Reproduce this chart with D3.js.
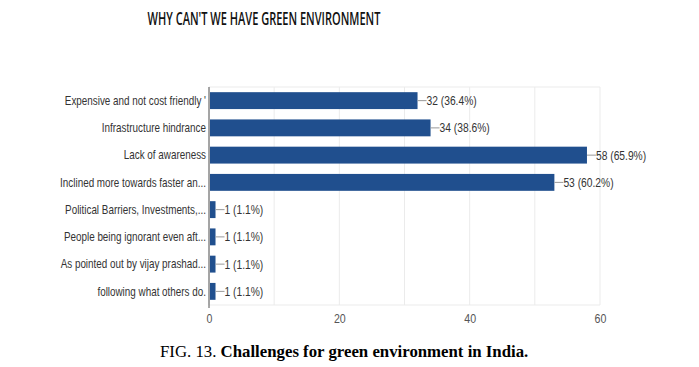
<!DOCTYPE html>
<html>
<head>
<meta charset="utf-8">
<script src="https://cdn.jsdelivr.net/npm/d3@7"></script>
<style>
  body { margin: 0; background: #fff; }
  svg text { font-family: "Liberation Sans", Arial, sans-serif; }
</style>
</head>
<body>
<svg id="chart" width="699" height="367"></svg>
<script>
// answers to the survey question
const categories = [
  "Expensive and not cost friendly '",
  "Infrastructure hindrance",
  "Lack of awareness",
  "Inclined more towards faster an...",
  "Political Barriers, Investments,...",
  "People being ignorant even aft...",
  "As pointed out by vijay prashad...",
  "following what others do."
];
const counts = [32, 34, 58, 53, 1, 1, 1, 1];
const percents = ["36.4%", "38.6%", "65.9%", "60.2%", "1.1%", "1.1%", "1.1%", "1.1%"];
const tickValues = [0, 20, 40, 60];
const gridValues = [0, 10, 20, 30, 40, 50, 60];

const data = categories.map((c, i) => ({ cat: c, count: counts[i], pct: percents[i] }));

const margin = { top: 87, left: 209, right: 99, bottom: 62 };
const W = 699, H = 367;
// the source picture is squeezed sideways, so text is too
const sq = 0.76;

const svg = d3.select("#chart");

const x = d3.scaleLinear().domain([0, 60]).range([margin.left, W - margin.right]);
const y = d3.scaleBand().domain(categories).range([margin.top, H - margin.bottom]).paddingInner(0.38).paddingOuter(0.19);

// title
svg.append("text")
  .attr("transform", "translate(264,25) scale(0.63,1)")
  .attr("text-anchor", "middle")
  .style("font-family", "'Open Sans', sans-serif")
  .style("font-weight", 600)
  .style("font-size", "17.5px")
  .attr("fill", "#111")
  .text("WHY CAN'T WE HAVE GREEN ENVIRONMENT");

// grid
svg.append("g").selectAll("line").data(gridValues).join("line")
  .attr("x1", d => x(d)).attr("x2", d => x(d))
  .attr("y1", margin.top).attr("y2", H - margin.bottom)
  .attr("stroke", "#ebebeb");
svg.append("line")
  .attr("x1", x(0)).attr("x2", x(60))
  .attr("y1", margin.top).attr("y2", margin.top)
  .attr("stroke", "#ebebeb");
svg.append("line")
  .attr("x1", x(0)).attr("x2", x(60))
  .attr("y1", H - margin.bottom).attr("y2", H - margin.bottom)
  .attr("stroke", "#ebebeb");

// bars
svg.append("g").selectAll("rect").data(data).join("rect")
  .attr("x", x(0) + 1)
  .attr("y", d => y(d.cat))
  .attr("width", d => x(d.count) - x(0) - 1)
  .attr("height", y.bandwidth())
  .attr("fill", "#204f8e");

// value labels with leader line
const lab = svg.append("g").selectAll("g").data(data).join("g")
  .attr("transform", d => `translate(${x(d.count)},${y(d.cat) + y.bandwidth() / 2})`);
lab.append("line")
  .attr("x1", 0).attr("x2", 9).attr("y1", 0).attr("y2", 0)
  .attr("stroke", "#999");
lab.append("text")
  .attr("transform", "translate(9,0) scale(0.79,1)")
  .attr("dy", "0.35em")
  .style("font-size", "13px")
  .attr("fill", "#333")
  .text(d => `${d.count} (${d.pct})`);

// y axis
const yAxis = svg.append("g")
  .attr("transform", `translate(${x(0)},0)`)
  .call(d3.axisLeft(y).tickSize(0).tickPadding(3));
yAxis.select(".domain").attr("stroke", "#555").attr("d", `M0,${margin.top}V${H - margin.bottom + 3}`);
yAxis.selectAll(".tick text")
  .attr("x", -3 / sq)
  .attr("transform", `scale(${sq},1)`)
  .style("font-size", "13px").attr("fill", "#333");

// x axis
const xAxis = svg.append("g")
  .attr("transform", `translate(0,${H - margin.bottom})`)
  .call(d3.axisBottom(x).tickValues(tickValues).tickSize(0).tickPadding(9));
xAxis.select(".domain").remove();
xAxis.selectAll(".tick text")
  .attr("transform", "scale(0.85,1)")
  .style("font-size", "12.5px").attr("fill", "#555");

// caption
const cap = svg.append("text")
  .attr("x", 160).attr("y", 357)
  .style("font-family", "'Liberation Serif', 'Times New Roman', serif")
  .style("font-size", "16.8px")
  .attr("fill", "#000");
cap.append("tspan").text("FIG. 13. ");
cap.append("tspan").style("font-weight", "bold").text("Challenges for green environment in India.");
</script>
</body>
</html>
